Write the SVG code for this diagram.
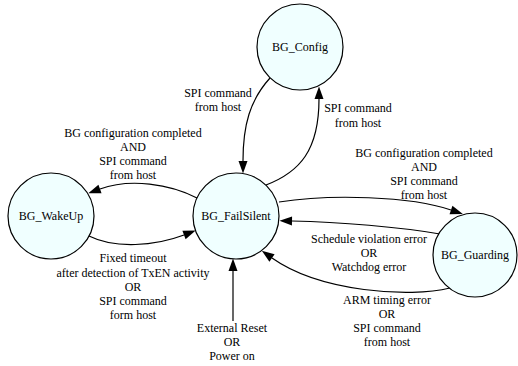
<svg xmlns="http://www.w3.org/2000/svg" width="518" height="366" viewBox="0 0 518 366">
<defs>
<style>
.node circle{fill:#f0ffff;stroke:#000;stroke-width:1.2}
text{font-family:"Liberation Serif","Times New Roman",serif;font-size:12px;fill:#000;text-anchor:middle}
.edge{fill:none;stroke:#000;stroke-width:1.2;marker-end:url(#arr)}
</style>
<marker id="arr" markerUnits="userSpaceOnUse" markerWidth="13" markerHeight="9" refX="0" refY="4.5" orient="auto" overflow="visible">
<path d="M0,0 L12.5,4.5 L0,9 z" fill="#000"/>
</marker>
</defs>
<rect width="518" height="366" fill="#fff"/>
<g id="connectors">
<path class="edge" d="M270,78 C250,100 243,125 243,161"/>
<path class="edge" d="M266,185 C300,172 319,150 319,99"/>
<path class="edge" d="M197,198 C170,184 130,178 100,189"/>
<path class="edge" d="M89,236 C115,249 155,246 184,235"/>
<path class="edge" d="M233,321 L233,271"/>
<path class="edge" d="M279,202 C330,194 410,196 451,210"/>
<path class="edge" d="M440,234 C400,227 340,222 292,221"/>
<path class="edge" d="M450,288 C410,298 320,292 272,258"/>
</g>
<g id="edge-labels">
<text x="218" y="97">SPI command</text>
<text x="218" y="111">from host</text>
<text x="358" y="112">SPI command</text>
<text x="358" y="127">from host</text>
<text x="133" y="137">BG configuration completed</text>
<text x="133" y="151">AND</text>
<text x="133" y="165">SPI command</text>
<text x="133" y="179">from host</text>
<text x="424" y="157">BG configuration completed</text>
<text x="424" y="171">AND</text>
<text x="424" y="185">SPI command</text>
<text x="424" y="199">from host</text>
<text x="133" y="262">Fixed timeout</text>
<text x="133" y="277">after detection of TxEN activity</text>
<text x="133" y="291">OR</text>
<text x="133" y="305">SPI command</text>
<text x="133" y="319">form host</text>
<text x="232" y="332">External Reset</text>
<text x="232" y="346">OR</text>
<text x="232" y="360">Power on</text>
<text x="369" y="243">Schedule violation error</text>
<text x="369" y="257">OR</text>
<text x="369" y="271">Watchdog error</text>
<text x="387" y="304">ARM timing error</text>
<text x="387" y="318">OR</text>
<text x="387" y="332">SPI command</text>
<text x="387" y="346">from host</text>
</g>
<g id="BG_Config" class="node"><circle cx="300" cy="47" r="43"/><text x="300" y="51">BG_Config</text></g>
<g id="BG_WakeUp" class="node"><circle cx="51" cy="216" r="43"/><text x="51" y="220">BG_WakeUp</text></g>
<g id="BG_FailSilent" class="node"><circle cx="236" cy="216" r="43"/><text x="236" y="220">BG_FailSilent</text></g>
<g id="BG_Guarding" class="node"><circle cx="475" cy="255" r="42"/><text x="475" y="259">BG_Guarding</text></g>
</svg>
